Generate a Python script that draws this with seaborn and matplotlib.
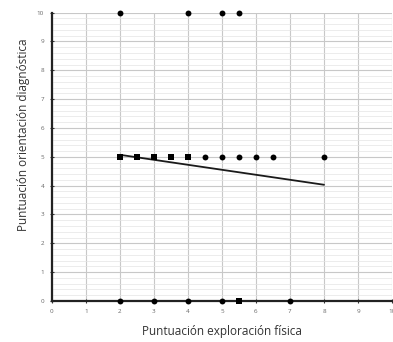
import matplotlib
matplotlib.use("Agg")
import matplotlib.pyplot as plt
import seaborn as sns
import pandas as pd
import numpy as np

# data
circle_x = [2, 4, 5, 5.5, 4.5, 5, 5.5, 6, 6.5, 8, 2, 3, 4, 5, 7]
circle_y = [10, 10, 10, 10, 5, 5, 5, 5, 5, 5, 0, 0, 0, 0, 0]
square_x = [2, 2.5, 3, 3.5, 4, 5.5]
square_y = [5, 5, 5, 5, 5, 0]
trend_x = [2, 8]
trend_y = [5.07, 4.03]
x_ticks = list(range(0, 11))
y_ticks = list(range(0, 11))
x_label = "Puntuación exploración física"
y_label = "Puntuación orientación diagnóstica"

sns.set_style("white")
plt.rcParams['font.family'] = ['Open Sans', 'DejaVu Sans']

fig = plt.figure(figsize=(3.93, 3.42), dpi=100)
ax = fig.add_axes([0.1316, 0.12, 0.866, 0.843])

df_c = pd.DataFrame({"x": circle_x, "y": circle_y})
df_s = pd.DataFrame({"x": square_x, "y": square_y})
df_t = pd.DataFrame({"x": trend_x, "y": trend_y})

sns.lineplot(data=df_t, x="x", y="y", ax=ax, color="#1a1a1a", linewidth=1.3, zorder=3)
sns.scatterplot(data=df_c, x="x", y="y", ax=ax, color="black", marker="o", s=18,
                edgecolor="black", linewidth=0, zorder=4, clip_on=False)
sns.scatterplot(data=df_s, x="x", y="y", ax=ax, color="black", marker="s", s=18,
                edgecolor="black", linewidth=0, zorder=4, clip_on=False)

ax.set_xlim(0, 10)
ax.set_ylim(0, 10)
ax.set_xticks(x_ticks)
ax.set_yticks(y_ticks)
ax.set_yticks(np.arange(0, 10.01, 0.2), minor=True)
ax.grid(True, which="major", color="#c8c8c8", linewidth=0.8)
ax.grid(True, which="minor", axis="y", color="#e4e4e4", linewidth=0.5)
ax.set_axisbelow(True)

for s in ["top", "right"]:
    ax.spines[s].set_visible(False)
for s in ["left", "bottom"]:
    ax.spines[s].set_color("#222222")
    ax.spines[s].set_linewidth(1.6)

ax.tick_params(axis="both", which="major", labelsize=4.5, labelcolor="#666666",
               length=3, width=0.8, color="#333333", direction="inout", pad=4,
               left=True, bottom=True)
ax.tick_params(axis="both", which="minor", length=0)

ax.set_xlabel(x_label, fontsize=8.5, color="#333333")
ax.set_ylabel(y_label, fontsize=8.5, color="#333333")
ax.xaxis.label.set_va("center")
ax.yaxis.label.set_va("center")
ax.xaxis.set_label_coords(0.5, -0.107)
ax.yaxis.set_label_coords(-0.084, 0.576)

fig.savefig("out.png", dpi=100)
